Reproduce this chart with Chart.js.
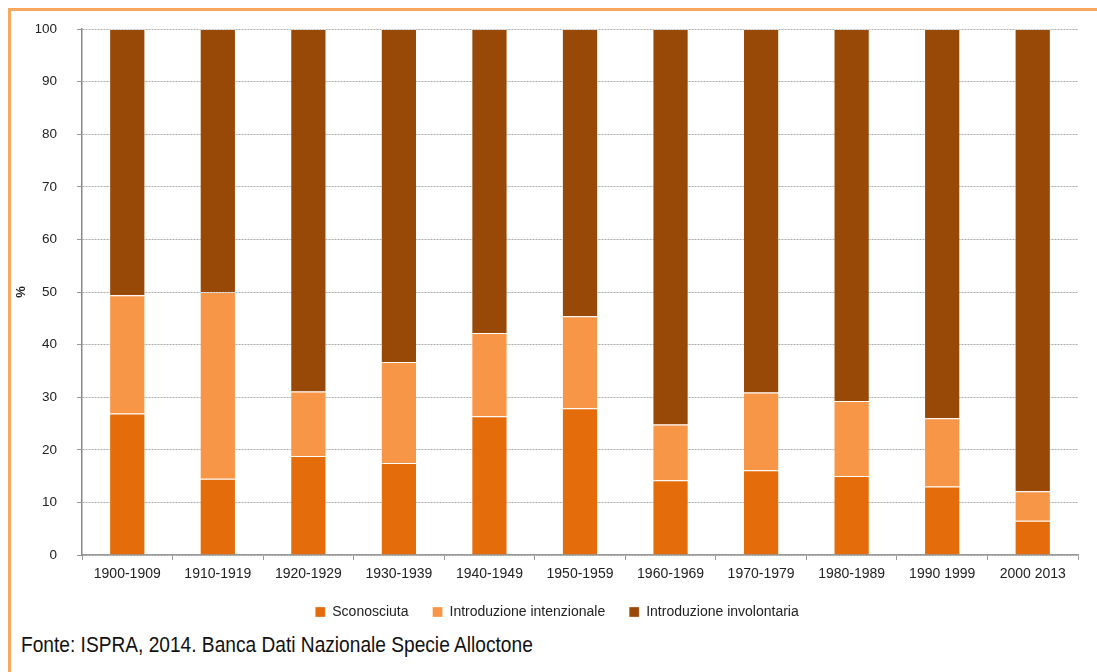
<!DOCTYPE html>
<html lang="it">
<head>
<meta charset="utf-8">
<title>Specie alloctone per via di introduzione</title>
<script src="https://cdn.jsdelivr.net/npm/chart.js@4/dist/chart.umd.min.js"></script>
<style>
  html, body { margin: 0; padding: 0; background: #fff; overflow: hidden; }
  #frame {
    position: absolute; left: 8px; top: 8px; width: 1200px; height: 800px;
    border-left: 3px solid #F8A75E; border-top: 3px solid #F8A75E;
  }
  #wrap { position: absolute; left: 0; top: 0; width: 1097px; height: 630px; }
  #fonte {
    position: absolute; left: 21px; top: 632px;
    font-family: "Liberation Sans Narrow", "Arial Narrow", "Liberation Sans", sans-serif;
    font-size: 22px; color: #111; white-space: nowrap;
    transform: scaleX(0.87); transform-origin: left center;
  }
</style>
</head>
<body>
<div id="frame"></div>
<div id="wrap"><canvas id="barChart" width="1097" height="630"></canvas></div>
<div id="fonte">Fonte: ISPRA, 2014. Banca Dati Nazionale Specie Alloctone</div>
<script>
const decadi = ['1900-1909', '1910-1919', '1920-1929', '1930-1939', '1940-1949', '1950-1959',
                '1960-1969', '1970-1979', '1980-1989', '1990 1999', '2000 2013'];
const sconosciuta  = [26.9, 14.5, 18.8, 17.5, 26.4, 27.9, 14.2, 16.1, 15.0, 13.0, 6.5];
const intenzionale = [22.5, 35.5, 12.3, 19.2, 15.8, 17.5, 10.6, 14.8, 14.3, 13.0, 5.6];
const involontaria = [50.6, 50.0, 68.9, 63.3, 57.8, 54.6, 75.2, 69.1, 70.7, 74.0, 87.9];
const yTicks = [0, 10, 20, 30, 40, 50, 60, 70, 80, 90, 100];

const font = 'Liberation Sans, Arial, sans-serif';

function serie(label, data, color) {
    return {
        label: label,
        data: data,
        backgroundColor: color,
        borderColor: 'rgba(255,255,255,0.3)',
        borderWidth: 1,
        barPercentage: 0.8,
        categoryPercentage: 0.5
    };
}

const ctx = document.getElementById('barChart').getContext('2d');
new Chart(ctx, {
    type: 'bar',
    data: {
        labels: decadi,
        datasets: [
            serie('Sconosciuta', sconosciuta, '#E46C0A'),
            serie('Introduzione intenzionale', intenzionale, '#F79646'),
            serie('Introduzione involontaria', involontaria, '#984807')
        ]
    },
    options: {
        responsive: false,
        animation: false,
        // left padding keeps the legend centred under the plot area
        layout: { padding: { left: 36, right: 19, top: 29, bottom: 1 } },
        plugins: {
            tooltip: { enabled: false },
            legend: {
                position: 'bottom',
                labels: {
                    boxWidth: 10, boxHeight: 10, padding: 24,
                    color: '#222', font: { family: font, size: 14 }
                }
            }
        },
        scales: {
            x: {
                stacked: true,
                afterFit: function(scale) { scale.height = 26; },
                grid: { drawOnChartArea: false, drawTicks: true, offset: true, tickLength: 5, color: '#999' },
                border: { color: '#999', width: 1.5 },
                ticks: { color: '#222', padding: 6, maxRotation: 0, font: { family: font, size: 14 } }
            },
            y: {
                stacked: true,
                min: 0, max: 100,
                afterBuildTicks: function(scale) {
                    scale.ticks = yTicks.map(v => ({ value: v }));
                },
                afterFit: function(scale) { scale.width = 46; },
                grid: { color: '#aaa', tickLength: 5, tickColor: '#999', tickBorderDash: [] },
                border: { color: '#888', width: 1.5, dash: [2, 1] },
                ticks: { color: '#222', padding: 20, font: { family: font, size: 13.5 } },
                title: {
                    display: true, text: '%', color: '#222',
                    padding: { top: -22, bottom: 0 },
                    font: { family: font, size: 13, weight: 'bold' }
                }
            }
        }
    }
});
</script>
</body>
</html>
